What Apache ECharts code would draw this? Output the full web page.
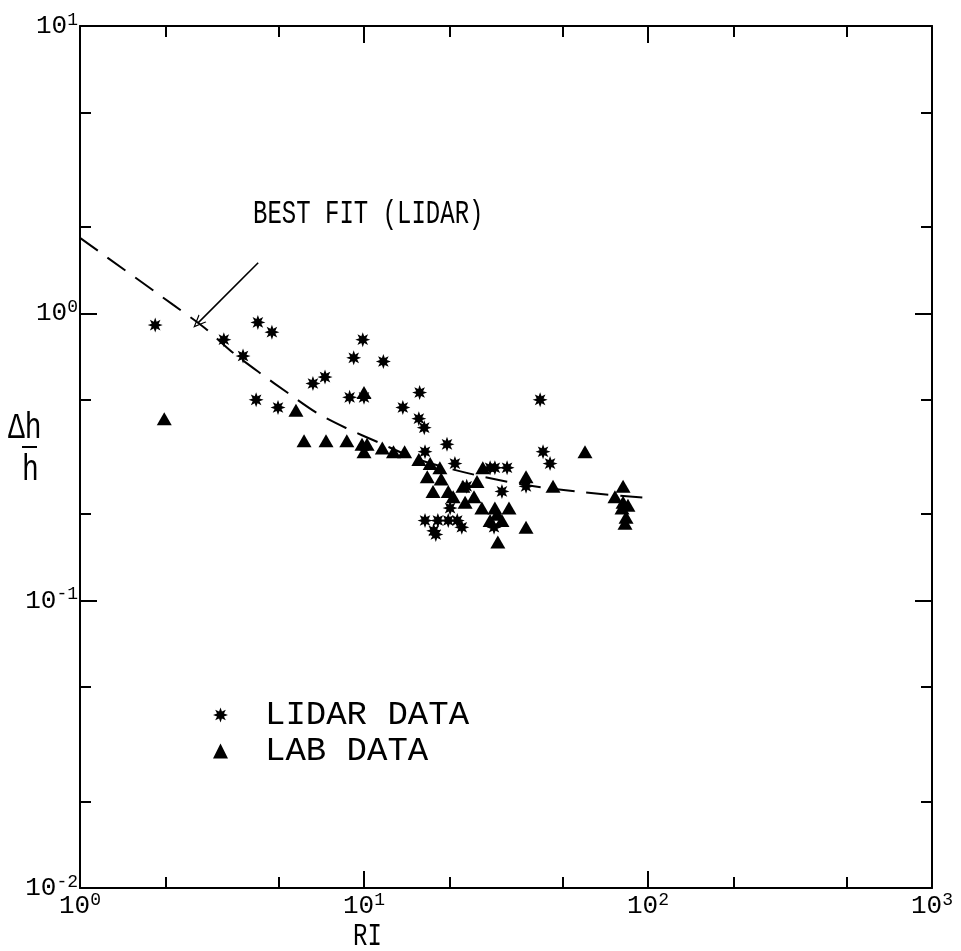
<!DOCTYPE html>
<html>
<head>
<meta charset="utf-8">
<script src="https://cdn.jsdelivr.net/npm/echarts@6/dist/echarts.min.js"></script>
<style>
  html, body { margin: 0; padding: 0; background: #fff; }
  #chart { width: 961px; height: 951px; }
</style>
</head>
<body>
<div id="chart"></div>
<script>
// Lidar observations: Richardson number vs. relative height change
const lidarRI = [1.84, 4.23, 4.74, 3.21, 3.75, 6.61, 7.29, 4.17, 4.98, 9.9, 9.2, 11.7, 8.9, 10.0,
  15.7, 13.7, 15.6, 16.3, 19.6, 16.4, 41.7, 42.7, 45.2, 20.9, 27.8, 28.9, 31.9, 30.6, 23.0, 37.2,
  16.4, 18.2, 19.8, 21.3, 22.1, 17.9, 17.6, 28.7, 20.1];
const lidarDH = [0.91, 0.93, 0.86, 0.81, 0.71, 0.57, 0.60, 0.50, 0.47, 0.81, 0.70, 0.68, 0.51, 0.51,
  0.53, 0.47, 0.43, 0.40, 0.35, 0.33, 0.50, 0.33, 0.30, 0.30, 0.29, 0.29, 0.29, 0.24, 0.25, 0.25,
  0.19, 0.19, 0.19, 0.19, 0.18, 0.17, 0.175, 0.18, 0.21];

// Laboratory observations
const labRI = [1.98, 5.76, 6.15, 7.35, 8.7, 9.84, 10.25, 10.0, 10.0, 11.6, 12.7, 13.9, 15.6, 17.1,
  18.5, 16.7, 18.7, 17.5, 19.8, 22.3, 25.0, 26.2, 22.7, 20.6, 24.4, 26.0, 28.9, 32.4, 27.8, 30.6,
  37.2, 29.6, 37.2, 46.3, 60.0, 81.7, 76.5, 81.7, 85.0, 81.0, 83.7, 83.0, 29.4];
const labDH = [0.43, 0.46, 0.36, 0.36, 0.36, 0.35, 0.35, 0.33, 0.53, 0.34, 0.33, 0.33, 0.31, 0.30,
  0.29, 0.27, 0.265, 0.24, 0.24, 0.25, 0.26, 0.29, 0.22, 0.23, 0.23, 0.21, 0.21, 0.21, 0.19, 0.19,
  0.18, 0.16, 0.27, 0.25, 0.33, 0.25, 0.23, 0.22, 0.215, 0.21, 0.195, 0.186, 0.20];

// Best-fit curve through the lidar data
const fitRI = [1, 2.13, 2.75, 3.43, 4.30, 5.40, 6.83, 8.64, 11.2, 15.7, 24.6, 36.9, 57.6, 103];
const fitDH = [1.83, 1.07, 0.889, 0.734, 0.620, 0.528, 0.450, 0.399, 0.356, 0.309, 0.274, 0.253, 0.239, 0.227];

// Annotation arrow pointing at the fit curve (data coordinates)
const arrowFrom = [4.24, 1.50];
const arrowTo = [2.60, 0.925];

// Axis ticks
const xMajor = [1, 10, 100, 1000];
const xMinor = [2, 5, 20, 50, 200, 500];
const yMajor = [0.01, 0.1, 1, 10];
const yMinor = [0.02, 0.05, 0.2, 0.5, 2, 5];

const FONT = 'Liberation Mono';
const INK = '#000';

function zip(a, b) { return a.map((v, i) => [v, b[i]]); }

// eight-pointed asterisk glyph used for the lidar markers
function asteriskPath(points, rOut, rIn) {
  let d = 'path://';
  for (let i = 0; i < points * 2; i++) {
    const r = i % 2 ? rIn : rOut;
    const a = i * Math.PI / points - Math.PI / 2;
    d += (i ? 'L' : 'M') + (r * Math.cos(a)).toFixed(3) + ',' + (r * Math.sin(a)).toFixed(3) + ' ';
  }
  return d + 'Z';
}
const ASTERISK = asteriskPath(8, 1, 0.5);

function powLabel(v) {
  const e = Math.round(Math.log10(v));
  return '{b|10}{s|' + e + '}';
}
const labelRich = {
  b: { fontFamily: FONT, fontSize: 26, lineHeight: 30, color: INK },
  s: { fontFamily: FONT, fontSize: 18, verticalAlign: 'top', color: INK }
};

function logAxis(kind, opts) {
  const isX = kind === 'x';
  return Object.assign({
    type: 'log',
    logBase: 10,
    min: isX ? 1 : 0.01,
    max: isX ? 1000 : 10,
    splitLine: { show: false },
    axisLine: { show: true, onZero: false, lineStyle: { color: INK, width: 2 } },
    axisTick: { show: true, inside: true, length: 17, lineStyle: { color: INK, width: 2 } },
    axisLabel: { show: false }
  }, opts);
}

function majorTick(values) {
  return { show: true, inside: true, length: 17, customValues: values, lineStyle: { color: INK, width: 2 } };
}
function minorTick(values) {
  return { show: true, inside: true, length: 11, customValues: values, lineStyle: { color: INK, width: 2 } };
}

const gridRect = { left: 80, top: 26, width: 852, height: 862 };

const chart = echarts.init(document.getElementById('chart'), null, { renderer: 'canvas' });

chart.setOption({
  backgroundColor: '#fff',
  animation: false,
  grid: [
    Object.assign({ containLabel: false }, gridRect),
    Object.assign({ containLabel: false }, gridRect)
  ],
  xAxis: [
    logAxis('x', {
      gridIndex: 0, position: 'bottom',
      axisTick: majorTick(xMajor),
      axisLabel: { show: true, margin: 3, customValues: xMajor, formatter: powLabel, rich: labelRich }
    }),
    logAxis('x', { gridIndex: 0, position: 'top', axisTick: majorTick(xMajor) }),
    logAxis('x', { gridIndex: 1, position: 'bottom', axisLine: { show: false }, axisTick: minorTick(xMinor) }),
    logAxis('x', { gridIndex: 1, position: 'top', axisLine: { show: false }, axisTick: minorTick(xMinor) })
  ],
  yAxis: [
    logAxis('y', {
      gridIndex: 0, position: 'left',
      axisTick: majorTick(yMajor),
      axisLabel: { show: true, margin: 2, customValues: yMajor, formatter: powLabel, rich: labelRich }
    }),
    logAxis('y', { gridIndex: 0, position: 'right', axisTick: majorTick(yMajor) }),
    logAxis('y', { gridIndex: 1, position: 'left', axisLine: { show: false }, axisTick: minorTick(yMinor) }),
    logAxis('y', { gridIndex: 1, position: 'right', axisLine: { show: false }, axisTick: minorTick(yMinor) })
  ],
  legend: {
    data: ['LIDAR DATA', 'LAB DATA'],
    orient: 'vertical',
    left: 208,
    top: 693,
    itemWidth: 15,
    itemHeight: 15,
    itemGap: 2,
    selectedMode: false,
    formatter: name => '{t|' + name + '}',
    textStyle: {
      color: INK,
      rich: { t: { fontFamily: FONT, fontSize: 34, lineHeight: 30, color: INK, padding: [0, 0, 0, 32] } }
    }
  },
  series: [
    {
      name: 'BEST FIT (LIDAR)',
      type: 'line',
      xAxisIndex: 0, yAxisIndex: 0,
      data: zip(fitRI, fitDH),
      smooth: 0.3,
      showSymbol: false,
      silent: true,
      lineStyle: { color: INK, width: 2, type: [22, 12] },
      z: 1,
      markLine: {
        silent: true,
        symbol: ['none', 'path://M0,0 L6,12 L4.6,12 L0,2.8 L-4.6,12 L-6,12 Z'],
        symbolSize: [11, 13],
        label: { show: false },
        lineStyle: { color: INK, width: 1.6, type: 'solid' },
        data: [[{ coord: arrowFrom }, { coord: arrowTo }]]
      }
    },
    {
      name: 'LIDAR DATA',
      type: 'scatter',
      xAxisIndex: 0, yAxisIndex: 0,
      data: zip(lidarRI, lidarDH),
      symbol: ASTERISK,
      symbolSize: 15,
      itemStyle: { color: INK, opacity: 1 },
      z: 3
    },
    {
      name: 'LAB DATA',
      type: 'scatter',
      xAxisIndex: 0, yAxisIndex: 0,
      data: zip(labRI, labDH),
      symbol: 'triangle',
      symbolSize: [15, 13],
      itemStyle: { color: INK, opacity: 1 },
      z: 2
    }
  ],
  graphic: [
    {
      type: 'text', x: 253, y: 214, scaleY: 1.35, silent: true,
      style: { text: 'BEST FIT (LIDAR)', font: '24px "' + FONT + '"', fill: INK, textVerticalAlign: 'middle' }
    },
    {
      type: 'text', x: 353, y: 937, scaleY: 1.3, silent: true,
      style: { text: 'RI', font: '24px "' + FONT + '"', fill: INK, textVerticalAlign: 'middle' }
    },
    {
      type: 'text', x: 8, y: 428, scaleY: 1.3, silent: true,
      style: { text: 'Δh', font: '28px "' + FONT + '"', fill: INK, textVerticalAlign: 'middle' }
    },
    {
      type: 'line', silent: true,
      shape: { x1: 22, y1: 447, x2: 37, y2: 447 },
      style: { stroke: INK, lineWidth: 2 }
    },
    {
      type: 'text', x: 22, y: 470, scaleY: 1.3, silent: true,
      style: { text: 'h', font: '28px "' + FONT + '"', fill: INK, textVerticalAlign: 'middle' }
    }
  ]
});
</script>
</body>
</html>
